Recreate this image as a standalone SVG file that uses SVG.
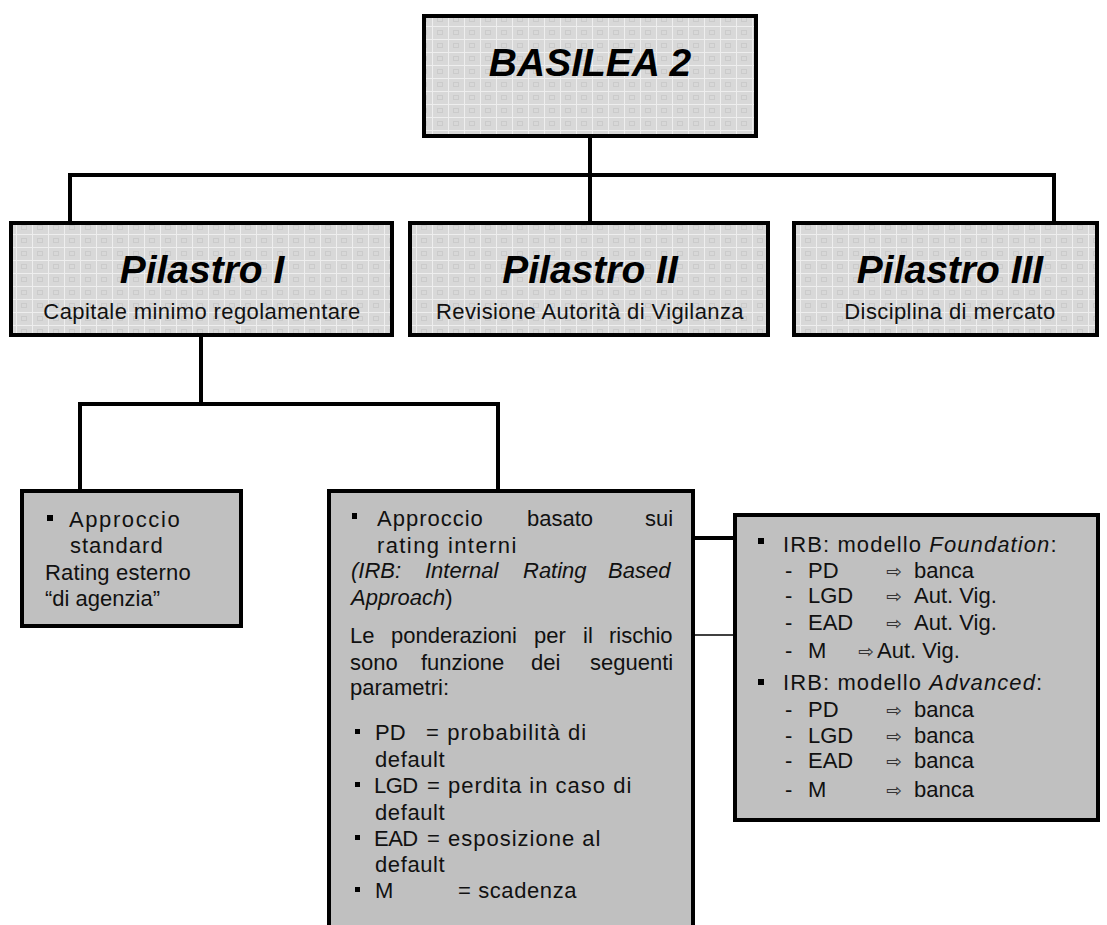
<svg xmlns="http://www.w3.org/2000/svg" width="1107" height="925" viewBox="0 0 1107 925">
<defs>
<pattern id="grid" width="16" height="13" patternUnits="userSpaceOnUse">
<rect width="16" height="13" fill="#d8d8d8"/>
<path d="M0 0.5H16M0.5 0V13" stroke="#eeeeee" stroke-width="1"/>
<rect x="5.5" y="4.5" width="5" height="4" fill="none" stroke="#cbcbcb" stroke-width="1"/>
</pattern>
<style>
.top{fill:url(#grid);stroke:#000;stroke-width:4}
.box{fill:#c0c0c0;stroke:#000;stroke-width:4}
.con{fill:none;stroke:#000;stroke-width:4}
.thin{fill:none;stroke:#000;stroke-width:1.6}
.title{font-family:"Liberation Sans",Arial,sans-serif;font-weight:bold;font-style:italic;font-size:39px;fill:#000;text-anchor:middle}
.sub{font-family:"Liberation Sans",Arial,sans-serif;font-size:22px;letter-spacing:0.4px;fill:#111;text-anchor:middle}
.t{font-family:"Liberation Sans",Arial,sans-serif;font-size:22px;fill:#111}
.it{font-style:italic}
.arr{font-family:"DejaVu Sans",sans-serif;font-size:19px;fill:#333}
.bul{fill:#000}
</style>
</defs>
<rect width="1107" height="925" fill="#fff"/>
<g id="connectors">
<path class="con" d="M590 138V175M68 175H1056M70 175V221M590 175V221M1054 175V221"/>
<path class="con" d="M201 337V404M78 404H500M80 404V489M498 404V489"/>
<path class="con" d="M695 538H733"/>
<path class="thin" d="M695 635H733"/>
</g>
<g id="basilea">
<rect class="top" x="424" y="16" width="332" height="120"/>
<text class="title" x="590" y="76">BASILEA 2</text>
</g>
<g id="pilastro1">
<rect class="top" x="11" y="223" width="381" height="112"/>
<text class="title" x="202" y="283">Pilastro I</text>
<text class="sub" x="202" y="319">Capitale minimo regolamentare</text>
</g>
<g id="pilastro2">
<rect class="top" x="410" y="223" width="358" height="112"/>
<text class="title" x="590" y="283">Pilastro II</text>
<text class="sub" x="590" y="319">Revisione Autorità di Vigilanza</text>
</g>
<g id="pilastro3">
<rect class="top" x="794" y="223" width="303" height="112"/>
<text class="title" x="950" y="283">Pilastro III</text>
<text class="sub" x="950" y="319">Disciplina di mercato</text>
</g>
<g id="standard">
<rect class="box" x="22" y="491" width="219" height="135"/>
<rect class="bul" x="47" y="515" width="6" height="6"/>
<text class="t" x="69" y="527" letter-spacing="1.6">Approccio</text>
<text class="t" x="70" y="553" letter-spacing="1">standard</text>
<text class="t" x="45" y="580" letter-spacing="0.2">Rating esterno</text>
<text class="t" x="45" y="606">“di agenzia”</text>
</g>
<g id="irb">
<rect class="box" x="329" y="491" width="364" height="460"/>
<rect class="bul" x="352" y="513" width="5" height="6"/>
<text class="t" y="526"><tspan x="377" letter-spacing="1">Approccio</tspan><tspan x="527">basato</tspan><tspan x="645">sui</tspan></text>
<text class="t" x="377" y="553" letter-spacing="1.4">rating interni</text>
<text class="t it" y="578"><tspan x="351">(IRB:</tspan><tspan x="425">Internal</tspan><tspan x="523">Rating</tspan><tspan x="608">Based</tspan></text>
<text class="t" x="351" y="605"><tspan class="it">Approach</tspan>)</text>
<text class="t" y="643"><tspan x="350">Le</tspan><tspan x="391">ponderazioni</tspan><tspan x="534">per</tspan><tspan x="583">il</tspan><tspan x="609">rischio</tspan></text>
<text class="t" y="670"><tspan x="350">sono</tspan><tspan x="421">funzione</tspan><tspan x="531">dei</tspan><tspan x="590">seguenti</tspan></text>
<text class="t" x="350" y="695">parametri:</text>
<rect class="bul" x="355" y="729" width="5" height="5"/>
<text class="t" y="740"><tspan x="375">PD</tspan><tspan x="426" letter-spacing="1.1">= probabilità di</tspan></text>
<text class="t" x="375" y="767" letter-spacing="0.6">default</text>
<rect class="bul" x="355" y="782" width="5" height="5"/>
<text class="t" y="793"><tspan x="374" letter-spacing="-0.5">LGD</tspan><tspan x="427" letter-spacing="1">= perdita in caso di</tspan></text>
<text class="t" x="375" y="820" letter-spacing="0.6">default</text>
<rect class="bul" x="355" y="835" width="5" height="5"/>
<text class="t" y="846"><tspan x="374" letter-spacing="-0.5">EAD</tspan><tspan x="427" letter-spacing="1">= esposizione al</tspan></text>
<text class="t" x="375" y="872" letter-spacing="0.6">default</text>
<rect class="bul" x="355" y="887" width="5" height="5"/>
<text class="t" y="898"><tspan x="375">M</tspan><tspan x="458" letter-spacing="0.6">= scadenza</tspan></text>
</g>
<g id="modelli">
<rect class="box" x="735" y="515" width="363" height="305"/>
<rect class="bul" x="758" y="538" width="6" height="6"/>
<text class="t" x="783" y="552" letter-spacing="1.1">IRB: modello <tspan class="it">Foundation</tspan>:</text>
<text class="t" y="578"><tspan x="785">-</tspan><tspan x="808">PD</tspan><tspan x="886" class="arr">⇨</tspan><tspan x="914">banca</tspan></text>
<text class="t" y="603"><tspan x="785">-</tspan><tspan x="808">LGD</tspan><tspan x="886" class="arr">⇨</tspan><tspan x="914">Aut. Vig.</tspan></text>
<text class="t" y="630"><tspan x="785">-</tspan><tspan x="808">EAD</tspan><tspan x="886" class="arr">⇨</tspan><tspan x="914">Aut. Vig.</tspan></text>
<text class="t" y="658"><tspan x="785">-</tspan><tspan x="808">M</tspan><tspan x="858" class="arr">⇨</tspan><tspan x="877">Aut. Vig.</tspan></text>
<rect class="bul" x="758" y="679" width="6" height="6"/>
<text class="t" x="783" y="690" letter-spacing="1.1">IRB: modello <tspan class="it">Advanced</tspan>:</text>
<text class="t" y="717"><tspan x="785">-</tspan><tspan x="808">PD</tspan><tspan x="886" class="arr">⇨</tspan><tspan x="914">banca</tspan></text>
<text class="t" y="743"><tspan x="785">-</tspan><tspan x="808">LGD</tspan><tspan x="886" class="arr">⇨</tspan><tspan x="914">banca</tspan></text>
<text class="t" y="768"><tspan x="785">-</tspan><tspan x="808">EAD</tspan><tspan x="886" class="arr">⇨</tspan><tspan x="914">banca</tspan></text>
<text class="t" y="797"><tspan x="785">-</tspan><tspan x="808">M</tspan><tspan x="886" class="arr">⇨</tspan><tspan x="914">banca</tspan></text>
</g>
</svg>
